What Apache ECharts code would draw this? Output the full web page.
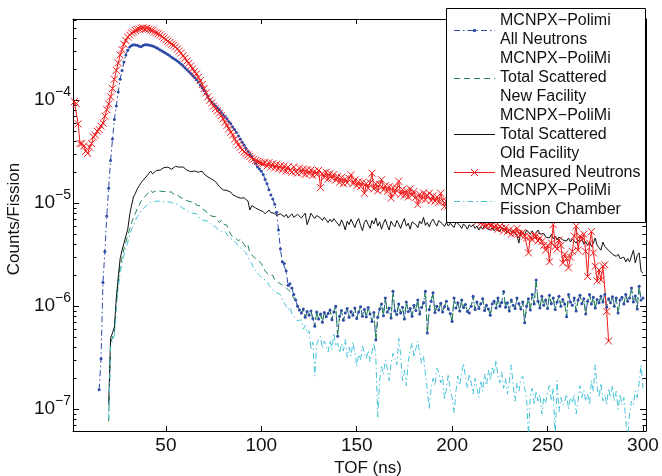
<!DOCTYPE html>
<html><head><meta charset="utf-8">
<script src="https://cdn.jsdelivr.net/npm/echarts@6/dist/echarts.min.js"></script>
<style>html,body{margin:0;padding:0;background:#fff}#c{width:662px;height:476px}</style>
</head><body><div id="c"></div>
<script>
const FONT = '"Liberation Sans", Arial, Helvetica, sans-serif';

// ---------- axes ----------
const xMin = 1.3, xMax = 301.6;
const yMin = 6.15e-8, yMax = 6.15e-4;
const xTicks = [50, 100, 150, 200, 250, 300];
const yTicks = [1e-7, 1e-6, 1e-5, 1e-4];
const xTitle = 'TOF (ns)';
const yTitle = 'Counts/Fission';

// ---------- series names ----------
const legendNames = [
  'MCNPX\u2212Polimi\nAll Neutrons',
  'MCNPX\u2212PoliMi\nTotal Scattered\nNew Facility',
  'MCNPX\u2212PoliMi\nTotal Scattered\nOld Facility',
  'Measured Neutrons',
  'MCNPX\u2212PoliMi\nFission Chamber'
];

// ---------- data (1 ns bins) ----------
const measuredStart = 2;   // x = 2 .. 282
const measured = [
9.7e-5,9.3e-5,5.9e-5,3.8e-5,3.8e-5,3.6e-5,3.2e-5,3.05e-5,3.5e-5,3.8e-5,
4.4e-5,4.6e-5,5.0e-5,5.2e-5,5.6e-5,6.0e-5,7.0e-5,8.1e-5,9.2e-5,1.08e-4,
1.3e-4,1.6e-4,1.95e-4,2.3e-4,2.75e-4,3.1e-4,3.5e-4,3.8e-4,4.1e-4,4.3e-4,
4.5e-4,4.6e-4,4.75e-4,4.85e-4,4.9e-4,5.0e-4,5.05e-4,4.95e-4,5.0e-4,4.9e-4,
4.8e-4,4.75e-4,4.6e-4,4.5e-4,4.42e-4,4.3e-4,4.15e-4,4.02e-4,3.87e-4,3.75e-4,
3.62e-4,3.5e-4,3.42e-4,3.3e-4,3.15e-4,3.0e-4,2.87e-4,2.7e-4,2.56e-4,2.4e-4,
2.28e-4,2.15e-4,2.02e-4,1.9e-4,1.8e-4,1.67e-4,1.55e-4,1.42e-4,1.3e-4,1.18e-4,
1.08e-4,1.0e-4,9.4e-5,8.8e-5,8.3e-5,7.9e-5,7.5e-5,7.1e-5,6.6e-5,6.1e-5,
5.7e-5,5.3e-5,4.9e-5,4.6e-5,4.2e-5,3.95e-5,3.7e-5,3.5e-5,3.3e-5,3.15e-5,
3.05e-5,2.95e-5,2.85e-5,2.75e-5,2.68e-5,2.6e-5,2.55e-5,2.5e-5,2.45e-5,2.42e-5,
2.5e-5,2.3e-5,2.48e-5,2.25e-5,2.42e-5,2.2e-5,2.38e-5,2.16e-5,2.32e-5,2.12e-5,
2.3e-5,2.05e-5,2.25e-5,2.08e-5,2.0e-5,2.25e-5,2.02e-5,1.96e-5,2.2e-5,1.98e-5,
2.15e-5,1.9e-5,2.12e-5,1.94e-5,2.1e-5,1.86e-5,2.05e-5,1.9e-5,2.08e-5,1.42e-5,
1.95e-5,1.78e-5,2.0e-5,1.72e-5,1.95e-5,1.75e-5,1.9e-5,1.68e-5,1.82e-5,1.6e-5,
1.78e-5,1.55e-5,1.72e-5,1.58e-5,1.75e-5,1.89e-5,1.55e-5,1.68e-5,1.48e-5,1.62e-5,
1.45e-5,1.6e-5,1.25e-5,1.55e-5,1.4e-5,1.58e-5,1.96e-5,1.38e-5,1.55e-5,1.32e-5,
1.52e-5,1.69e-5,1.35e-5,1.48e-5,1.3e-5,1.45e-5,1.12e-5,1.42e-5,1.25e-5,1.4e-5,
1.64e-5,1.22e-5,1.36e-5,1.18e-5,1.32e-5,1.15e-5,1.38e-5,1.2e-5,1.3e-5,1.14e-5,
9.7e-6,1.22e-5,1.1e-5,1.26e-5,1.08e-5,1.2e-5,1.25e-5,1.06e-5,1.18e-5,1.05e-5,
1.15e-5,1.02e-5,1.25e-5,1.06e-5,9.3e-6,1.05e-5,9.4e-6,1.02e-5,9.0e-6,9.5e-6,
9.2e-6,8.6e-6,8.9e-6,8.2e-6,8.5e-6,7.9e-6,8.0e-6,7.4e-6,7.6e-6,7.0e-6,
7.2e-6,6.6e-6,6.9e-6,6.4e-6,6.2e-6,6.5e-6,6.0e-6,6.3e-6,6.1e-6,6.2e-6,
5.8e-6,6.1e-6,5.6e-6,6.0e-6,5.7e-6,5.4e-6,5.8e-6,5.3e-6,5.5e-6,5.0e-6,
5.4e-6,5.1e-6,5.7e-6,5.1e-6,4.9e-6,5.2e-6,4.8e-6,4.6e-6,3.3e-6,4.7e-6,
4.4e-6,4.9e-6,4.8e-6,4.3e-6,4.6e-6,4.25e-6,3.9e-6,3.5e-6,3.9e-6,2.7e-6,
4.1e-6,6.2e-6,3.8e-6,3.6e-6,4.4e-6,3.9e-6,2.63e-6,3.2e-6,2.9e-6,2.36e-6,
3.0e-6,3.4e-6,4.8e-6,6.0e-6,3.5e-6,4.8e-6,4.4e-6,5.0e-6,3.4e-6,1.94e-6,
4.1e-6,5.3e-6,3.3e-6,2.45e-6,1.76e-6,2.25e-6,1.8e-6,2.45e-6,2.53e-6,8.9e-7,
4.6e-7
];

const allNeutronsStart = 15;  // x = 15 .. 118 (then shares scatteredTail)
const allNeutronsEarly = [
1.55e-7,3.1e-7,1.7e-6,3.4e-6,7.5e-6,1.4e-5,2.6e-5,4.2e-5,6.5e-5,8.8e-5,
1.2e-4,1.6e-4,1.95e-4,2.35e-4,2.75e-4,3.05e-4,3.28e-4,3.4e-4,3.45e-4,3.44e-4,
3.42e-4,3.34e-4,3.3e-4,3.4e-4,3.45e-4,3.45e-4,3.43e-4,3.4e-4,3.36e-4,3.3e-4,
3.24e-4,3.16e-4,3.08e-4,3.0e-4,2.93e-4,2.86e-4,2.78e-4,2.7e-4,2.62e-4,2.55e-4,
2.47e-4,2.4e-4,2.32e-4,2.24e-4,2.15e-4,2.06e-4,1.98e-4,1.9e-4,1.82e-4,1.74e-4,
1.66e-4,1.58e-4,1.5e-4,1.41e-4,1.32e-4,1.24e-4,1.16e-4,1.08e-4,1.01e-4,9.6e-5,
9.2e-5,8.8e-5,8.4e-5,8.1e-5,7.6e-5,7.2e-5,6.9e-5,6.6e-5,6.2e-5,5.9e-5,
5.5e-5,5.2e-5,4.85e-5,4.5e-5,4.2e-5,3.9e-5,3.65e-5,3.4e-5,3.2e-5,3.0e-5,
2.85e-5,2.65e-5,2.45e-5,2.25e-5,2.15e-5,2.05e-5,1.9e-5,1.7e-5,1.55e-5,1.35e-5,
1.2e-5,1.1e-5,9.8e-6,8.2e-6,5.5e-6,3.6e-6,2.7e-6,2.6e-6,2.2e-6,1.6e-6,
1.65e-6,1.5e-6,1.3e-6,1.15e-6
];

const newFacilityStart = 20;  // x = 20 .. 118 (then shares scatteredTail)
const newFacilityEarly = [
7.6e-8,4.4e-7,5.0e-7,5.6e-7,1.05e-6,1.7e-6,2.4e-6,3.0e-6,3.6e-6,4.2e-6,
4.9e-6,5.6e-6,6.5e-6,7.3e-6,8.0e-6,8.9e-6,9.6e-6,1.05e-5,1.1e-5,1.15e-5,
1.22e-5,1.28e-5,1.34e-5,1.27e-5,1.3e-5,1.33e-5,1.29e-5,1.31e-5,1.27e-5,1.3e-5,
1.32e-5,1.28e-5,1.25e-5,1.29e-5,1.22e-5,1.2e-5,1.22e-5,1.15e-5,1.13e-5,1.11e-5,
1.08e-5,1.06e-5,1.08e-5,1.03e-5,1.0e-5,1.02e-5,9.6e-6,9.8e-6,9.4e-6,8.8e-6,
9.0e-6,8.4e-6,7.8e-6,8.1e-6,7.5e-6,7.2e-6,7.4e-6,6.9e-6,6.5e-6,6.8e-6,
6.3e-6,6.5e-6,6.1e-6,5.4e-6,5.0e-6,4.7e-6,4.9e-6,4.5e-6,4.3e-6,4.5e-6,
4.2e-6,4.0e-6,3.7e-6,3.9e-6,3.3e-6,3.2e-6,3.0e-6,2.9e-6,2.8e-6,2.9e-6,
2.6e-6,2.5e-6,2.2e-6,2.3e-6,2.0e-6,1.95e-6,2.0e-6,1.8e-6,1.75e-6,1.7e-6,
1.65e-6,1.6e-6,1.65e-6,1.5e-6,1.45e-6,1.4e-6,1.3e-6,1.25e-6,1.1e-6
];

// x = 119 .. 300, identical for "All Neutrons" and "Total Scattered New Facility"
const scatteredTail = [
1.0e-6,9.2e-7,8.6e-7,9.4e-7,7.8e-7,8.9e-7,8.2e-7,9.0e-7,7.6e-7,6.4e-7,
8.8e-7,7.5e-7,8.4e-7,7.0e-7,8.7e-7,7.9e-7,8.5e-7,9.2e-7,7.4e-7,8.8e-7,
1.0e-6,5.1e-7,8.0e-7,9.1e-7,7.3e-7,8.6e-7,9.5e-7,7.8e-7,8.9e-7,8.2e-7,
9.6e-7,7.6e-7,8.8e-7,9.9e-7,8.0e-7,9.3e-7,7.9e-7,9.7e-7,8.4e-7,7.1e-7,
8.7e-7,4.7e-7,7.8e-7,9.4e-7,1.05e-6,8.1e-7,1.2e-6,8.8e-7,9.6e-7,7.7e-7,
1.4e-6,9.0e-7,8.3e-7,1.05e-6,8.6e-7,9.8e-7,7.5e-7,1.1e-6,8.9e-7,9.5e-7,
8.0e-7,1.02e-6,9.1e-7,1.15e-6,8.4e-7,9.7e-7,1.08e-6,1.4e-6,5.5e-7,9.3e-7,
1.12e-6,1.35e-6,8.7e-7,1.0e-6,9.2e-7,1.07e-6,8.8e-7,9.9e-7,1.12e-6,9.4e-7,
8.5e-7,7.1e-7,1.2e-6,9.6e-7,1.08e-6,9.0e-7,1.15e-6,9.7e-7,1.04e-6,8.9e-7,
8.6e-7,1.0e-6,1.25e-6,9.3e-7,1.1e-6,9.5e-7,1.06e-6,1.18e-6,9.1e-7,1.02e-6,
9.4e-7,8.2e-7,1.05e-6,1.12e-6,9.6e-7,1.2e-6,1.0e-6,1.09e-6,1.39e-6,9.8e-7,
1.08e-6,9.0e-7,1.15e-6,1.02e-6,9.5e-7,1.2e-6,1.06e-6,9.4e-7,1.1e-6,6.9e-7,
1.0e-6,1.18e-6,9.2e-7,1.3e-6,1.05e-6,1.8e-6,1.12e-6,9.6e-7,1.25e-6,1.02e-6,
1.15e-6,9.5e-7,1.28e-6,1.06e-6,1.2e-6,9.3e-7,1.1e-6,1.25e-6,1.0e-6,1.16e-6,
1.05e-6,7.9e-7,1.3e-6,1.1e-6,1.02e-6,1.2e-6,9.0e-7,1.15e-6,1.28e-6,1.06e-6,
1.18e-6,8.4e-7,1.12e-6,1.3e-6,1.05e-6,1.22e-6,9.6e-7,1.16e-6,1.08e-6,1.25e-6,
1.1e-6,1.3e-6,9.8e-7,1.18e-6,1.08e-6,1.24e-6,1.0e-6,1.2e-6,8.6e-7,1.15e-6,
1.22e-6,1.05e-6,1.3e-6,1.12e-6,1.2e-6,1.5e-6,1.1e-6,1.26e-6,9.4e-7,1.56e-6,
1.15e-6,1.2e-6
];

const oldFacilityStart = 20;  // x = 20 .. 300
const oldFacility = [
1.1e-7,4.9e-7,5.5e-7,6.3e-7,1.2e-6,1.9e-6,2.9e-6,3.5e-6,4.1e-6,4.8e-6,
5.6e-6,7.7e-6,9.6e-6,1.15e-5,1.25e-5,1.38e-5,1.48e-5,1.58e-5,1.67e-5,1.74e-5,
1.84e-5,1.9e-5,2.05e-5,1.93e-5,2.0e-5,2.08e-5,2.02e-5,2.1e-5,2.15e-5,2.22e-5,
2.28e-5,2.24e-5,2.18e-5,2.14e-5,2.22e-5,2.28e-5,2.3e-5,2.24e-5,2.2e-5,2.25e-5,
2.16e-5,2.1e-5,2.14e-5,2.02e-5,1.97e-5,2.06e-5,2.1e-5,2.0e-5,1.96e-5,2.05e-5,
1.92e-5,1.85e-5,1.8e-5,1.76e-5,1.72e-5,1.69e-5,1.62e-5,1.55e-5,1.45e-5,1.4e-5,
1.35e-5,1.3e-5,1.33e-5,1.36e-5,1.28e-5,1.21e-5,1.2e-5,1.16e-5,1.14e-5,1.12e-5,
1.1e-5,1.13e-5,1.16e-5,1.05e-5,8.6e-6,9.5e-6,9.3e-6,9.0e-6,9.2e-6,8.6e-6,
8.8e-6,8.3e-6,7.9e-6,7.6e-6,8.6e-6,8.1e-6,8.4e-6,8.0e-6,7.6e-6,7.3e-6,
7.9e-6,8.0e-6,7.4e-6,7.8e-6,7.2e-6,7.4e-6,7.9e-6,7.3e-6,7.6e-6,7.8e-6,
7.7e-6,7.2e-6,7.6e-6,8.0e-6,6.2e-6,7.0e-6,8.0e-6,7.5e-6,7.1e-6,7.6e-6,
7.7e-6,7.2e-6,6.8e-6,7.3e-6,6.9e-6,6.5e-6,7.0e-6,6.6e-6,7.1e-6,6.7e-6,
6.6e-6,6.0e-6,6.9e-6,6.3e-6,5.5e-6,6.7e-6,6.2e-6,7.0e-6,6.4e-6,5.8e-6,
6.6e-6,7.1e-6,6.1e-6,5.4e-6,6.5e-6,6.9e-6,6.2e-6,5.7e-6,6.8e-6,6.3e-6,
7.2e-6,6.0e-6,6.6e-6,5.6e-6,6.4e-6,7.0e-6,6.1e-6,5.5e-6,6.7e-6,6.2e-6,
5.9e-6,6.8e-6,6.3e-6,5.7e-6,6.5e-6,7.1e-6,6.0e-6,6.4e-6,5.6e-6,6.6e-6,
6.9e-6,6.2e-6,5.8e-6,6.7e-6,6.3e-6,7.3e-6,6.1e-6,6.5e-6,5.9e-6,6.6e-6,
7.0e-6,6.4e-6,6.0e-6,6.8e-6,6.9e-6,6.3e-6,5.95e-6,6.5e-6,6.0e-6,6.4e-6,
6.2e-6,5.8e-6,6.6e-6,6.4e-6,6.1e-6,5.7e-6,6.3e-6,6.0e-6,5.6e-6,6.2e-6,
5.9e-6,6.2e-6,5.7e-6,6.0e-6,5.5e-6,5.9e-6,5.6e-6,6.1e-6,5.7e-6,5.5e-6,
5.5e-6,5.8e-6,5.4e-6,5.7e-6,5.6e-6,5.3e-6,5.8e-6,5.7e-6,5.5e-6,5.2e-6,
5.6e-6,5.3e-6,5.5e-6,5.1e-6,4.8e-6,4.1e-6,5.4e-6,5.2e-6,4.9e-6,5.5e-6,
5.3e-6,5.0e-6,5.4e-6,4.9e-6,5.2e-6,5.5e-6,5.0e-6,4.8e-6,5.1e-6,4.7e-6,
4.8e-6,4.6e-6,5.0e-6,4.5e-6,4.8e-6,4.4e-6,4.7e-6,4.8e-6,4.4e-6,4.6e-6,
4.3e-6,4.6e-6,4.2e-6,4.5e-6,4.4e-6,4.1e-6,4.4e-6,4.2e-6,4.5e-6,4.0e-6,
4.25e-6,3.9e-6,4.2e-6,3.8e-6,4.1e-6,4.6e-6,3.9e-6,3.7e-6,3.5e-6,4.2e-6,
3.8e-6,3.9e-6,3.5e-6,3.6e-6,3.2e-6,3.16e-6,3.05e-6,3.2e-6,2.9e-6,2.8e-6,
3.0e-6,2.7e-6,2.9e-6,2.7e-6,2.6e-6,3.5e-6,2.63e-6,3.1e-6,3.3e-6,2.18e-6,
2.1e-6
];

const chamberStart = 20;  // x = 20 .. 300
const chamber = [
8.0e-8,4.0e-7,4.6e-7,5.2e-7,9.5e-7,1.5e-6,2.1e-6,2.6e-6,3.1e-6,3.6e-6,
4.2e-6,4.9e-6,5.6e-6,6.2e-6,6.8e-6,7.4e-6,7.9e-6,8.4e-6,8.8e-6,9.2e-6,
9.6e-6,9.9e-6,1.02e-5,1.06e-5,1.04e-5,1.08e-5,1.05e-5,1.07e-5,1.04e-5,1.05e-5,
1.03e-5,1.01e-5,1.03e-5,9.9e-6,1.0e-5,9.7e-6,9.8e-6,9.6e-6,9.2e-6,9.0e-6,
8.7e-6,8.5e-6,8.2e-6,8.3e-6,8.0e-6,7.8e-6,7.9e-6,7.5e-6,7.0e-6,7.1e-6,
6.8e-6,6.6e-6,6.7e-6,6.4e-6,6.1e-6,6.2e-6,5.9e-6,5.6e-6,5.7e-6,5.3e-6,
5.2e-6,5.3e-6,5.0e-6,4.7e-6,4.8e-6,4.4e-6,4.3e-6,4.1e-6,3.8e-6,3.9e-6,
3.6e-6,3.5e-6,3.3e-6,3.0e-6,2.8e-6,2.6e-6,2.3e-6,2.4e-6,2.1e-6,2.0e-6,
2.05e-6,1.85e-6,1.9e-6,1.75e-6,1.6e-6,1.65e-6,1.44e-6,1.5e-6,1.35e-6,1.4e-6,
1.3e-6,1.15e-6,1.2e-6,1.0e-6,9.2e-7,9.8e-7,8.5e-7,8.0e-7,8.3e-7,7.2e-7,
6.9e-7,7.4e-7,6.0e-7,6.5e-7,5.5e-7,5.8e-7,3.8e-7,4.5e-7,2.1e-7,4.2e-7,
4.8e-7,5.1e-7,3.9e-7,4.6e-7,4.4e-7,3.6e-7,4.7e-7,3.8e-7,5.5e-7,4.1e-7,
4.4e-7,3.5e-7,4.3e-7,3.7e-7,4.8e-7,3.2e-7,4.0e-7,3.3e-7,4.5e-7,3.6e-7,
2.6e-7,3.4e-7,3.0e-7,4.1e-7,4.0e-7,3.1e-7,3.7e-7,2.9e-7,3.6e-7,4.4e-7,
3.3e-7,8.4e-8,1.9e-7,2.6e-7,2.2e-7,3.0e-7,2.5e-7,1.9e-7,2.8e-7,3.5e-7,
3.1e-7,2.7e-7,4.9e-7,3.4e-7,1.9e-7,2.4e-7,1.7e-7,2.9e-7,3.8e-7,4.4e-7,
3.2e-7,3.9e-7,4.6e-7,3.5e-7,2.8e-7,3.3e-7,2.2e-7,1.53e-7,1.0e-7,1.6e-7,
2.0e-7,1.7e-7,2.5e-7,2.3e-7,1.8e-7,2.1e-7,1.23e-7,1.6e-7,2.2e-7,1.5e-7,
1.3e-7,9.2e-8,1.5e-7,2.1e-7,1.7e-7,2.3e-7,2.8e-7,2.0e-7,1.6e-7,2.2e-7,
1.8e-7,1.4e-7,2.0e-7,1.6e-7,1.3e-7,1.9e-7,1.5e-7,2.2e-7,1.7e-7,2.4e-7,
1.9e-7,2.6e-7,2.2e-7,3.0e-7,2.1e-7,1.8e-7,2.3e-7,1.6e-7,2.0e-7,1.4e-7,
1.9e-7,2.7e-7,1.7e-7,1.2e-7,1.8e-7,1.5e-7,2.0e-7,2.1e-7,1.6e-7,1.3e-7,
5.5e-8,1.35e-7,1.6e-7,1.1e-7,1.5e-7,1.2e-7,1.4e-7,9.0e-8,1.3e-7,1.14e-7,
1.5e-7,1.7e-7,1.2e-7,1.6e-7,5.0e-8,1.9e-7,9.5e-8,1.3e-7,1.1e-7,1.2e-7,
1.4e-7,1.0e-7,1.3e-7,1.15e-7,1.4e-7,9.0e-8,1.2e-7,1.7e-7,1.3e-7,1.53e-7,
1.2e-7,1.4e-7,1.1e-7,1.9e-7,1.5e-7,2.7e-7,1.6e-7,1.3e-7,1.8e-7,1.2e-7,
1.4e-7,1.1e-7,1.6e-7,1.3e-7,1.7e-7,1.2e-7,1.5e-7,1.0e-7,1.4e-7,1.1e-7,
1.3e-7,8.0e-8,5.0e-8,9.2e-8,1.2e-7,1.1e-7,1.5e-7,1.3e-7,1.8e-7,2.7e-7,
1.6e-7
];

// ---------- styles ----------
const BLUE = '#2c4aa6', GREEN = '#23864f', BLACK = '#111111', RED = '#f01a1a', CYAN = '#45c2da';
const DASHDOT = [6, 3, 1.5, 3];
const DASH = [6, 4];
const XSYM = 'path://M0,0L10,10M10,0L0,10';

const toPairs = (start, arr) => arr.map((v, i) => [start + i, v]);

// minor log ticks (2..9 x 10^n) inside the axis range
const minorTicks = [];
for (let e = -8; e <= -4; e++) for (let m = 2; m <= 9; m++) {
  const v = m * Math.pow(10, e);
  if (v > yMin && v < yMax) minorTicks.push(v);
}

const chart = echarts.init(document.getElementById('c'), null, {renderer: 'canvas'});

const axisLineStyle = {show: true, onZero: false, lineStyle: {color: '#000', width: 1}};
const labelColor = '#111';

function yLabel(v) {
  const e = Math.round(Math.log10(v));
  return '{b|10}{s|\u2212' + Math.abs(e) + '}';
}

// legend geometry
const LG = {x: 446, y: 8, w: 199, h: 214, lineH: 18.9, top: 11.5, textX: 500, s1: 454, s2: 495};
const legendStyles = [
  {color: BLUE, dash: DASHDOT, marker: 'dot'},
  {color: GREEN, dash: DASH},
  {color: BLACK, dash: null},
  {color: RED, dash: null, marker: 'x'},
  {color: CYAN, dash: DASHDOT}
];
const legendEls = [{
  type: 'rect', z: 100,
  shape: {x: LG.x + 0.5, y: LG.y + 0.5, width: LG.w, height: LG.h},
  style: {fill: '#fff', stroke: '#000', lineWidth: 1}
}];
let cur = LG.top;
legendNames.forEach((nm, i) => {
  const lines = nm.split('\n');
  const st = legendStyles[i];
  lines.forEach((t, k) => {
    legendEls.push({type: 'text', z: 101, style: {
      text: t, x: LG.textX, y: cur + LG.lineH * (k + 0.5), fill: '#111',
      font: '16px ' + FONT, verticalAlign: 'middle', align: 'left'}});
  });
  const sy = Math.round(cur + LG.lineH * lines.length / 2) + 0.5;
  legendEls.push({type: 'line', z: 101, shape: {x1: LG.s1, y1: sy, x2: LG.s2, y2: sy},
    style: {stroke: st.color, lineWidth: 1, lineDash: st.dash || null}});
  const cx = (LG.s1 + LG.s2) / 2;
  if (st.marker === 'dot') {
    legendEls.push({type: 'circle', z: 102, shape: {cx: cx, cy: sy, r: 1.7}, style: {fill: st.color}});
  } else if (st.marker === 'x') {
    legendEls.push({type: 'line', z: 102, shape: {x1: cx - 3.5, y1: sy - 3.5, x2: cx + 3.5, y2: sy + 3.5}, style: {stroke: st.color, lineWidth: 1}});
    legendEls.push({type: 'line', z: 102, shape: {x1: cx - 3.5, y1: sy + 3.5, x2: cx + 3.5, y2: sy - 3.5}, style: {stroke: st.color, lineWidth: 1}});
  }
  cur += LG.lineH * lines.length;
});

const yAxisBase = {
  type: 'log', logBase: 10, min: yMin, max: yMax, gridIndex: 0,
  splitLine: {show: false}, minorTick: {show: false}, minorSplitLine: {show: false}
};

const option = {
  animation: false,
  backgroundColor: '#fff',
  grid: {left: 73, right: 16, top: 19, bottom: 45, containLabel: false, outerBoundsMode: 'none'},
  xAxis: [
    {type: 'value', position: 'bottom', min: xMin, max: xMax, gridIndex: 0,
     axisLine: axisLineStyle,
     axisTick: {show: true, inside: true, length: 5, customValues: xTicks, lineStyle: {color: '#000'}},
     axisLabel: {show: true, customValues: xTicks, fontSize: 19, color: labelColor, fontFamily: FONT, margin: 5},
     splitLine: {show: false},
     name: xTitle, nameLocation: 'middle', nameGap: 29,
     nameTextStyle: {fontSize: 17, color: labelColor, fontFamily: FONT, padding: [0, 0, 0, 17]}},
    {type: 'value', position: 'top', min: xMin, max: xMax, gridIndex: 0,
     axisLine: axisLineStyle,
     axisTick: {show: true, inside: true, length: 5, customValues: xTicks, lineStyle: {color: '#000'}},
     axisLabel: {show: false}, splitLine: {show: false}}
  ],
  yAxis: [
    Object.assign({}, yAxisBase, {position: 'left',
      axisLine: axisLineStyle,
      axisTick: {show: true, inside: true, length: 6, customValues: yTicks, lineStyle: {color: '#000'}},
      axisLabel: {show: true, customValues: yTicks, formatter: yLabel, margin: 2,
        rich: {
          b: {fontSize: 19, fontFamily: FONT, color: labelColor, lineHeight: 30},
          s: {fontSize: 14, fontFamily: FONT, color: labelColor, verticalAlign: 'top', lineHeight: 15}
        }},
      name: yTitle, nameLocation: 'middle', nameGap: 48,
      nameTextStyle: {fontSize: 17, color: labelColor, fontFamily: FONT, padding: [0, 0, 0, 12]}}),
    Object.assign({}, yAxisBase, {position: 'right',
      axisLine: axisLineStyle,
      axisTick: {show: true, inside: true, length: 6, customValues: yTicks, lineStyle: {color: '#000'}},
      axisLabel: {show: false}}),
    Object.assign({}, yAxisBase, {position: 'left',
      axisLine: {show: false},
      axisTick: {show: true, inside: true, length: 3.5, customValues: minorTicks, lineStyle: {color: '#000'}},
      axisLabel: {show: false}}),
    Object.assign({}, yAxisBase, {position: 'right',
      axisLine: {show: false},
      axisTick: {show: true, inside: true, length: 3.5, customValues: minorTicks, lineStyle: {color: '#000'}},
      axisLabel: {show: false}})
  ],
  series: [
    {name: legendNames[0], type: 'line', xAxisIndex: 0, yAxisIndex: 0, silent: true,
     data: toPairs(allNeutronsStart, allNeutronsEarly.concat(scatteredTail)),
     symbol: 'circle', symbolSize: 3, showSymbol: true,
     lineStyle: {color: BLUE, width: 1, type: DASHDOT},
     itemStyle: {color: BLUE, borderWidth: 0}},
    {name: legendNames[1], type: 'line', xAxisIndex: 0, yAxisIndex: 0, silent: true,
     data: toPairs(newFacilityStart, newFacilityEarly.concat(scatteredTail)),
     symbol: 'none',
     lineStyle: {color: GREEN, width: 1, type: DASH}},
    {name: legendNames[2], type: 'line', xAxisIndex: 0, yAxisIndex: 0, silent: true,
     data: toPairs(oldFacilityStart, oldFacility),
     symbol: 'none',
     lineStyle: {color: BLACK, width: 1}},
    {name: legendNames[3], type: 'line', xAxisIndex: 0, yAxisIndex: 0, silent: true,
     data: toPairs(measuredStart, measured),
     symbol: XSYM, symbolSize: 7, showSymbol: true,
     lineStyle: {color: RED, width: 1},
     itemStyle: {color: RED, borderColor: RED, borderWidth: 1}},
    {name: legendNames[4], type: 'line', xAxisIndex: 0, yAxisIndex: 0, silent: true,
     data: toPairs(chamberStart, chamber),
     symbol: 'none',
     lineStyle: {color: CYAN, width: 1, type: DASHDOT}}
  ],
  graphic: {elements: legendEls}
};
chart.setOption(option);
</script>
</body></html>
